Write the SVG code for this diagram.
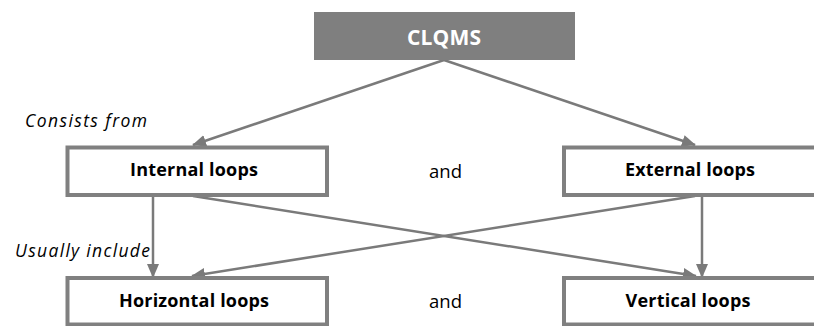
<svg xmlns="http://www.w3.org/2000/svg" width="814" height="326" viewBox="0 0 814 326">
<defs>
<style>
.box{fill:#ffffff;stroke:#808080;stroke-width:4}
.lbl{font-family:"Open Sans","Liberation Sans",sans-serif;font-weight:bold;font-size:18px;fill:#000;text-anchor:middle}
.conn{stroke:#7a7a7a;stroke-width:2.5;fill:none;marker-end:url(#ah)}
.and{font-family:"Open Sans","Liberation Sans",sans-serif;font-size:18.5px;fill:#000}
.it{font-family:"Open Sans","Liberation Sans",sans-serif;font-style:italic;font-size:17.5px;fill:#000}
</style>
<marker id="ah" markerUnits="userSpaceOnUse" markerWidth="14" markerHeight="12" refX="13" refY="6" orient="auto">
<path d="M0,0 L14,6 L0,12 Z" fill="#7a7a7a"/>
</marker>
</defs>
<rect width="814" height="326" fill="#ffffff"/>
<g id="connectors">
<line class="conn" x1="444" y1="60" x2="193" y2="145"/>
<line class="conn" x1="444" y1="60" x2="695" y2="145"/>
<line class="conn" x1="153" y1="197" x2="153" y2="277"/>
<line class="conn" x1="702" y1="197" x2="702" y2="277"/>
<line class="conn" x1="193" y1="196" x2="696" y2="276"/>
<line class="conn" x1="695" y1="196" x2="192" y2="276"/>
</g>
<g id="clqms">
<rect x="314" y="12" width="261" height="48" fill="#7f7f7f"/>
<text x="444" y="45" class="lbl" style="font-size:21px;fill:#fff" textLength="74">CLQMS</text>
</g>
<g id="internal">
<rect class="box" x="67.5" y="147.5" width="259.5" height="47.5"/>
<text x="194" y="176" class="lbl" textLength="128">Internal loops</text>
</g>
<g id="external">
<rect class="box" x="564" y="147.5" width="259.5" height="47.5"/>
<text x="690" y="176" class="lbl" textLength="130">External loops</text>
</g>
<g id="horizontal">
<rect class="box" x="67.5" y="278" width="259.5" height="46.5"/>
<text x="194" y="307" class="lbl" textLength="150">Horizontal loops</text>
</g>
<g id="vertical">
<rect class="box" x="564" y="278" width="259.5" height="46.5"/>
<text x="688" y="307" class="lbl" textLength="125">Vertical loops</text>
</g>
<text x="429" y="178" class="and" textLength="33">and</text>
<text x="429" y="308" class="and" textLength="33">and</text>
<text x="25" y="127" class="it" textLength="122">Consists from</text>
<text x="15" y="257" class="it" textLength="135">Usually include</text>
</svg>
